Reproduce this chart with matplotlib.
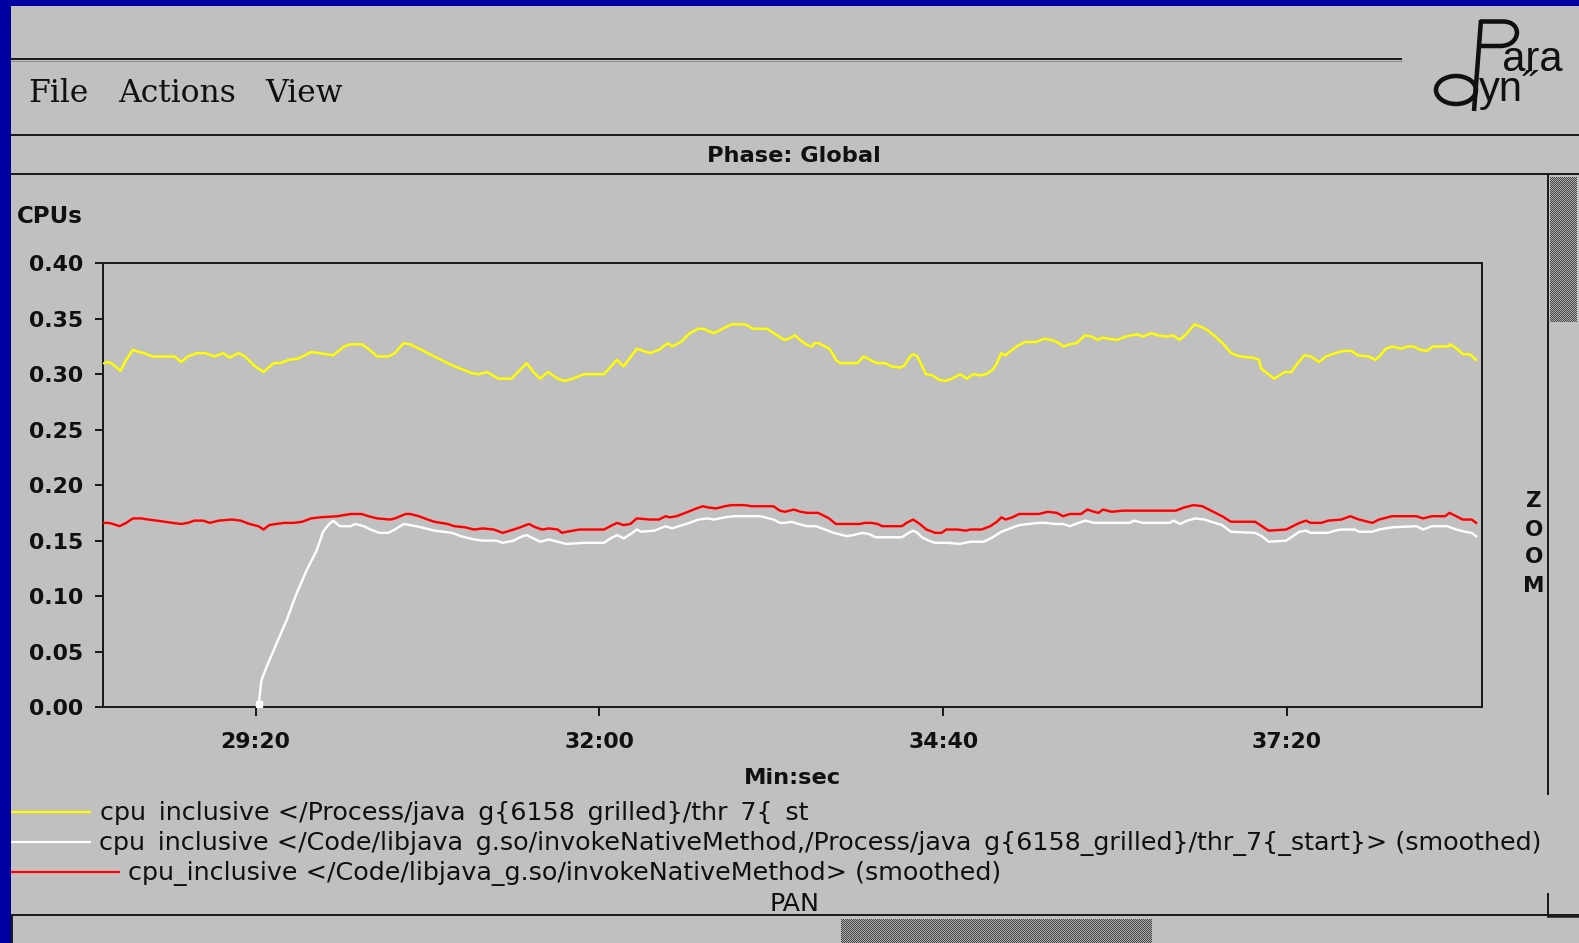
import numpy as np
import matplotlib
matplotlib.use('Agg')
import matplotlib.pyplot as plt
from matplotlib import font_manager as fm
from matplotlib.patches import Rectangle, Ellipse, PathPatch
from matplotlib.path import Path
from matplotlib.colors import ListedColormap

# ---------------- data (time in seconds, value in CPUs) ----------------
yellow_t = [1689.5, 1691.6, 1693.6, 1697.1, 1699.8, 1702.9, 1705.9, 1708.0, 1712.1, 1722.3,
            1725.4, 1728.5, 1732.6, 1736.7, 1740.8, 1744.9, 1747.9, 1752.0, 1755.1, 1759.2,
            1763.7, 1768.4, 1771.5, 1775.6, 1779.7, 1785.8, 1789.9, 1796.1, 1801.2, 1804.3,
            1809.4, 1812.5, 1816.6, 1821.7, 1824.8, 1828.9, 1831.9, 1837.1, 1843.2, 1851.4,
            1855.5, 1860.6, 1863.7, 1867.8, 1872.9, 1879.1, 1882.1, 1886.2, 1889.3, 1892.4,
            1896.1, 1900.6, 1903.6, 1907.7, 1912.9, 1922.1, 1928.2, 1931.3, 1937.4, 1943.6,
            1947.7, 1951.8, 1953.8, 1957.9, 1962.0, 1966.1, 1968.2, 1973.3, 1976.4, 1981.5,
            1987.6, 1991.7, 1997.9, 2002.0,
            2006, 2008, 2011, 2014, 2017, 2019, 2020, 2022, 2025, 2027, 2029, 2030, 2032, 2040,
            2043, 2046, 2049, 2053, 2056, 2060, 2062, 2065, 2066, 2068, 2070, 2072, 2075, 2078,
            2081, 2084, 2088, 2091, 2094, 2097, 2100, 2103, 2105, 2107, 2109, 2112, 2115, 2118,
            2123, 2127, 2130, 2133, 2136, 2139, 2142, 2146, 2149, 2152, 2154, 2157, 2161, 2165,
            2170, 2173, 2177, 2180, 2184, 2187, 2190, 2193, 2197, 2202, 2206, 2210, 2214, 2218,
            2224, 2227, 2228, 2230, 2234, 2239, 2242, 2245, 2248, 2251, 2255, 2258, 2261, 2266,
            2270, 2273, 2278, 2281, 2283, 2286, 2289, 2293, 2296, 2299, 2302, 2305, 2308, 2315,
            2316, 2319, 2322, 2325, 2328]
yellow_v = [0.310, 0.311, 0.309, 0.303, 0.313, 0.322, 0.320, 0.319, 0.316, 0.316,
            0.311, 0.316, 0.319, 0.319, 0.316, 0.319, 0.315, 0.319, 0.316, 0.308,
            0.302, 0.310, 0.310, 0.313, 0.314, 0.320, 0.319, 0.317, 0.325, 0.327,
            0.327, 0.323, 0.316, 0.316, 0.319, 0.328, 0.327, 0.322, 0.316, 0.308,
            0.305, 0.301, 0.300, 0.302, 0.296, 0.296, 0.302, 0.310, 0.302, 0.296,
            0.302, 0.296, 0.294, 0.296, 0.300, 0.300, 0.313, 0.307, 0.323, 0.319,
            0.322, 0.328, 0.325, 0.329, 0.337, 0.341, 0.341, 0.337, 0.340, 0.345,
            0.345, 0.341, 0.341, 0.336,
            0.331, 0.332, 0.335, 0.330, 0.326, 0.325, 0.328, 0.328, 0.325, 0.323, 0.317, 0.313, 0.310, 0.310,
            0.316, 0.313, 0.310, 0.310, 0.307, 0.306, 0.308, 0.317, 0.318, 0.316, 0.308, 0.300, 0.299, 0.295,
            0.294, 0.296, 0.300, 0.296, 0.300, 0.299, 0.300, 0.304, 0.310, 0.319, 0.317, 0.322, 0.326, 0.329,
            0.329, 0.332, 0.331, 0.329, 0.325, 0.327, 0.328, 0.335, 0.334, 0.331, 0.333, 0.332, 0.331, 0.334,
            0.336, 0.334, 0.337, 0.335, 0.334, 0.335, 0.331, 0.336, 0.345, 0.341, 0.335, 0.328, 0.319, 0.316,
            0.315, 0.313, 0.305, 0.302, 0.296, 0.302, 0.302, 0.310, 0.317, 0.316, 0.311, 0.316, 0.318, 0.321,
            0.321, 0.317, 0.316, 0.313, 0.316, 0.323, 0.325, 0.323, 0.325, 0.325, 0.322, 0.321, 0.325, 0.325,
            0.327, 0.323, 0.318, 0.318, 0.313]

white_t = [1761.5, 1762.7, 1765.1, 1769.7, 1774.4, 1779.0, 1783.7, 1788.4, 1791.4, 1793.8,
           1796.1, 1799.2, 1804.3, 1806.3, 1810.4, 1813.5, 1817.6, 1821.7, 1824.8, 1828.9,
           1831.9, 1837.1, 1843.2, 1851.4, 1855.5, 1861.6, 1865.7, 1871.9, 1875.0, 1880.1,
           1884.2, 1886.2, 1889.3, 1892.4, 1896.5, 1900.6, 1904.7, 1912.9, 1922.1, 1925.2,
           1928.2, 1931.3, 1935.4, 1937.4, 1939.5, 1945.6, 1950.8, 1953.8, 1956.9, 1962.0,
           1966.1, 1970.2, 1973.3, 1978.4, 1982.5, 1988.7, 1994.8, 2001.0, 2004.0,
           2006.4, 2009.5, 2012.6, 2016.7, 2020.8, 2024.9, 2029.0, 2035.2, 2038.2, 2042.4,
           2045.4, 2048.5, 2060.8, 2063.9, 2066.0, 2068.0, 2070.1, 2073.2, 2076.3, 2082.4,
           2087.6, 2092.7, 2098.9, 2103.0, 2107.1, 2111.2, 2115.3, 2124.5, 2127.6, 2131.7,
           2135.8, 2138.9, 2143.0, 2146.1, 2150.2, 2153.3, 2166.7, 2168.7, 2172.8, 2176.9,
           2185.2, 2187.2, 2190.3, 2193.4, 2197.5, 2201.6, 2204.7, 2209.8, 2213.9, 2225.2,
           2228.3, 2231.4, 2239.6, 2242.7, 2245.8, 2248.9, 2250.9, 2259.1, 2262.2, 2265.3,
           2271.5, 2273.5, 2279.7, 2282.8, 2288.9, 2300.2, 2303.3, 2307.4, 2314.6, 2318.7,
           2322.8, 2325.9, 2328.0]
white_v = [0.003, 0.024, 0.036, 0.057, 0.078, 0.102, 0.123, 0.141, 0.158, 0.164,
           0.168, 0.163, 0.163, 0.165, 0.163, 0.160, 0.157, 0.157, 0.160, 0.165,
           0.164, 0.162, 0.159, 0.157, 0.154, 0.151, 0.150, 0.150, 0.148, 0.150,
           0.154, 0.155, 0.152, 0.149, 0.151, 0.149, 0.147, 0.148, 0.148, 0.152,
           0.155, 0.152, 0.157, 0.160, 0.158, 0.159, 0.163, 0.161, 0.163, 0.166,
           0.169, 0.170, 0.169, 0.171, 0.172, 0.172, 0.172, 0.169, 0.166,
           0.166, 0.167, 0.165, 0.163, 0.163, 0.160, 0.157, 0.154, 0.155, 0.157,
           0.156, 0.153, 0.153, 0.157, 0.159, 0.157, 0.153, 0.150, 0.148, 0.148,
           0.147, 0.149, 0.149, 0.153, 0.158, 0.161, 0.164, 0.166, 0.166, 0.165,
           0.165, 0.163, 0.166, 0.168, 0.166, 0.166, 0.166, 0.168, 0.166, 0.166,
           0.166, 0.168, 0.165, 0.168, 0.170, 0.169, 0.167, 0.164, 0.158, 0.157,
           0.154, 0.149, 0.150, 0.154, 0.158, 0.159, 0.157, 0.157, 0.159, 0.160,
           0.160, 0.158, 0.158, 0.160, 0.162, 0.163, 0.160, 0.163, 0.163, 0.160,
           0.158, 0.157, 0.154]

red_t = [1689.5, 1691.6, 1693.6, 1696.7, 1699.8, 1702.9, 1707.0, 1710.0, 1714.1, 1721.3,
         1725.4, 1728.5, 1731.5, 1735.6, 1738.7, 1742.8, 1749.0, 1753.1, 1757.2, 1761.3,
         1763.7, 1766.4, 1769.5, 1773.5, 1777.6, 1781.7, 1785.8, 1789.9, 1798.1, 1804.3,
         1809.4, 1812.5, 1816.6, 1822.7, 1824.8, 1829.9, 1831.9, 1836.0, 1840.1, 1843.2,
         1849.4, 1852.4, 1857.5, 1861.6, 1865.7, 1870.9, 1875.0, 1880.1, 1883.2, 1887.2,
         1890.3, 1893.4, 1896.5, 1900.6, 1902.6, 1904.7, 1910.8, 1922.1, 1926.2, 1928.2,
         1931.3, 1934.4, 1937.4, 1943.6, 1947.7, 1950.8, 1952.8, 1955.9, 1960.0, 1965.1,
         1968.2, 1970.2, 1974.3, 1978.4, 1981.5, 1987.6, 1990.7, 1995.8, 2001.0, 2004.0,
         2006.4, 2010.5, 2013.6, 2016.7, 2021.8, 2024.9, 2026.9, 2030.0, 2041.3, 2043.4,
         2046.5, 2049.5, 2051.6, 2060.8, 2062.9, 2066.0, 2069.1, 2072.2, 2076.3, 2079.3,
         2081.4, 2086.5, 2090.6, 2092.7, 2097.8, 2101.9, 2105.0, 2107.1, 2109.1, 2112.2,
         2115.3, 2124.5, 2128.7, 2132.8, 2135.8, 2138.9, 2144.1, 2147.1, 2150.2, 2152.3,
         2154.3, 2158.4, 2163.6, 2188.2, 2192.3, 2196.5, 2200.6, 2203.6, 2206.7, 2209.8,
         2213.9, 2225.2, 2228.3, 2231.4, 2239.6, 2242.7, 2245.8, 2248.9, 2250.9, 2256.0,
         2259.1, 2265.3, 2269.4, 2273.5, 2279.7, 2282.8, 2288.9, 2300.2, 2303.3, 2307.4,
         2313.6, 2315.6, 2318.7, 2321.8, 2325.9, 2328.0]
red_v = [0.166, 0.166, 0.165, 0.163, 0.166, 0.170, 0.170, 0.169, 0.168, 0.166,
         0.165, 0.166, 0.168, 0.168, 0.166, 0.168, 0.169, 0.168, 0.165, 0.163,
         0.160, 0.164, 0.165, 0.166, 0.166, 0.167, 0.170, 0.171, 0.172, 0.174,
         0.174, 0.172, 0.170, 0.169, 0.170, 0.174, 0.174, 0.172, 0.169, 0.167,
         0.165, 0.163, 0.162, 0.160, 0.161, 0.160, 0.157, 0.160, 0.162, 0.165,
         0.162, 0.160, 0.161, 0.160, 0.157, 0.158, 0.160, 0.160, 0.164, 0.166,
         0.164, 0.165, 0.170, 0.169, 0.169, 0.172, 0.171, 0.172, 0.175, 0.179,
         0.181, 0.180, 0.179, 0.181, 0.182, 0.182, 0.181, 0.181, 0.181, 0.177,
         0.176, 0.178, 0.176, 0.175, 0.175, 0.172, 0.170, 0.165, 0.165, 0.166,
         0.166, 0.165, 0.163, 0.163, 0.166, 0.169, 0.165, 0.160, 0.157, 0.157,
         0.160, 0.160, 0.159, 0.160, 0.160, 0.163, 0.167, 0.171, 0.169, 0.171,
         0.174, 0.174, 0.176, 0.175, 0.172, 0.174, 0.174, 0.178, 0.176, 0.175,
         0.178, 0.176, 0.177, 0.177, 0.180, 0.182, 0.181, 0.178, 0.175, 0.172,
         0.167, 0.167, 0.163, 0.159, 0.160, 0.163, 0.166, 0.168, 0.166, 0.166,
         0.168, 0.169, 0.172, 0.169, 0.166, 0.169, 0.172, 0.172, 0.170, 0.172,
         0.172, 0.175, 0.172, 0.169, 0.169, 0.166]

x_ticks = [1760, 1920, 2080, 2240]
x_tick_labels = ['29:20', '32:00', '34:40', '37:20']
y_ticks = [0.00, 0.05, 0.10, 0.15, 0.20, 0.25, 0.30, 0.35, 0.40]
x_range = [1689.0, 2330.5]
y_range = [0.0, 0.40]

GAP = '\u2002'   # stands in for the underscores that the original display hides
legend_labels = [
    'cpu' + GAP + 'inclusive </Process/java' + GAP + 'g{6158' + GAP + 'grilled}/thr' + GAP + '7{' + GAP + 'st',
    'cpu' + GAP + 'inclusive </Code/libjava' + GAP + 'g.so/invokeNativeMethod,/Process/java' + GAP
    + 'g{6158_grilled}/thr_7{_start}> (smoothed)',
    'cpu_inclusive </Code/libjava_g.so/invokeNativeMethod> (smoothed)',
]
series_colors = ['#ffff00', '#ffffff', '#ff0000']
menu_items = ['File', 'Actions', 'View']

# ---------------- figure ----------------
W, H = 1579, 943
GREY = '#c0c0c0'
DARK = '#1c1c1c'
INK = '#101010'
BLUE = '#0000a0'
PX = 72.0 / 100.0   # points per pixel

plt.rcParams['font.family'] = ['DejaVu Sans']
fig = plt.figure(figsize=(W / 100, H / 100), dpi=100)
fig.patch.set_facecolor(GREY)

bg = fig.add_axes([0, 0, 1, 1], zorder=0)
bg.set_xlim(0, W)
bg.set_ylim(H, 0)
bg.axis('off')

# blue screen border
bg.add_patch(Rectangle((0, 0), W, 6, color=BLUE, lw=0, zorder=5))
bg.add_patch(Rectangle((0, 0), 11, H, color=BLUE, lw=0, zorder=5))

def hline(y, x0, x1, lw=2.0, color=DARK):
    bg.plot([x0, x1], [y, y], color=color, lw=lw * PX, solid_capstyle='butt', zorder=3)

def vline(x, y0, y1, lw=2.0, color=DARK):
    bg.plot([x, x], [y0, y1], color=color, lw=lw * PX, solid_capstyle='butt', zorder=3)

hline(59, 11, 1402)
hline(60.5, 11, 1402, lw=1, color='#8a8a8a')
hline(135, 11, W)
hline(174, 11, W)
hline(915, 11, W)
hline(915.5, 1547, W, lw=3.5)
vline(1547.5, 174, 795)
vline(1547.5, 893, 915)
vline(12, 915, H)

# stippled scrollbar sliders
stip = ListedColormap(['#4a4a4a', '#a9a9a9'])
def stipple(x0, x1, y0, y1):
    w, h = int(x1 - x0), int(y1 - y0)
    img = np.indices((h, w)).sum(axis=0) % 2
    bg.imshow(img, cmap=stip, extent=(x0, x1, y1, y0), interpolation='nearest',
              aspect='auto', zorder=2)
stipple(1550, 1577, 177, 322)
stipple(841, 1152, 919, H)
bg.set_xlim(0, W)
bg.set_ylim(H, 0)

# menu bar
menu_x = [28, 118, 265]
for xm, name in zip(menu_x, menu_items):
    bg.text(xm, 102, name, family='DejaVu Serif', fontsize=22.6, color=INK,
            ha='left', va='baseline', zorder=4)

# Paradyn logo
lwL = 4.5 * PX
bg.plot([1481, 1474], [20, 111], color=INK, lw=lwL, solid_capstyle='butt', zorder=4)
pverts = [(1480, 21.5), (1503, 21.5), (1523, 21.5), (1521, 46), (1500, 46), (1478, 46)]
pcodes = [Path.MOVETO, Path.LINETO, Path.CURVE4, Path.CURVE4, Path.CURVE4, Path.LINETO]
bg.add_patch(PathPatch(Path(pverts, pcodes), fill=False, lw=lwL, ec=INK, zorder=4))
bg.add_patch(Ellipse((1456, 90), 40, 28, fill=False, lw=lwL, ec=INK, zorder=4))
# "ara" over "yn" as one two-line text (the letters interlock as in the logo)
bg.text(1479, 101, '  ara\nyn\u02dd', family='Liberation Sans', fontsize=30,
        linespacing=0.68, color=INK, ha='left', va='baseline', zorder=4)

# header texts
bold = dict(family='DejaVu Sans', weight='bold', color=INK)
bg.text(794, 161.5, 'Phase: Global', fontsize=16.2, ha='center', va='baseline', **bold)
bg.text(17, 223, 'CPUs', fontsize=16.5, ha='left', va='baseline', **bold)
bg.text(792, 784, 'Min:sec', fontsize=16.2, ha='center', va='baseline', **bold)
for ch, yb in zip('ZOOM', [507, 536, 563, 592]):
    bg.text(1534, yb, ch, fontsize=15.5, ha='center', va='baseline', **bold)

# ---------------- plot axes ----------------
L, R, T, B = 103, 1481.5, 263.3, 707
ax = fig.add_axes([L / W, 1 - B / H, (R - L) / W, (B - T) / H], zorder=2)
ax.patch.set_alpha(0)

lw_line = 2.4 * PX
ax.plot(yellow_t, yellow_v, color=series_colors[0], lw=lw_line, zorder=3)
ax.plot(white_t, white_v, color=series_colors[1], lw=lw_line, marker='s',
        markevery=[0], ms=6 * PX, zorder=3)
ax.plot(red_t, red_v, color=series_colors[2], lw=lw_line, zorder=4)

ax.set_xlim(*x_range)
ax.set_ylim(*y_range)
ax.set_xticks(x_ticks)
ax.set_xticklabels(x_tick_labels)
ax.set_yticks(y_ticks)
ax.set_yticklabels(['%.2f' % v for v in y_ticks])
for sp in ax.spines.values():
    sp.set_color(DARK)
    sp.set_linewidth(2.0 * PX)
ax.tick_params(axis='both', direction='out', length=8.5 * PX, width=2.0 * PX,
               color=DARK, labelcolor=INK, labelsize=15.8)
ax.tick_params(axis='y', pad=11.5 * PX)
ax.tick_params(axis='x', pad=16 * PX)
for lbl in ax.get_xticklabels() + ax.get_yticklabels():
    lbl.set_fontweight('bold')

# ---------------- legend text (fitted to the reference width) ----------------
fp = fm.FontProperties(family='DejaVu Sans')
renderer = fig.canvas.get_renderer()
probe = bg.text(98.7, 850, legend_labels[1], fontproperties=fp, fontsize=20)
wpx = probe.get_window_extent(renderer).width
probe.remove()
leg_fs = 20 * (1543.8 - 98.7) / wpx

leg_x = [99.5, 98.7, 127.5]
leg_base = [820, 850, 880]
line_end = [91, 91, 120]
line_y = [811.7, 841.7, 871.7]

# the last glyph of the first line is cut off in the original display
probe = bg.text(leg_x[0], leg_base[0], legend_labels[0][:-1], fontproperties=fp, fontsize=leg_fs)
clip_x = probe.get_window_extent(renderer).x1 + 3
probe.remove()
clip = Rectangle((0, 0), clip_x, H, transform=bg.transData, visible=False)
bg.add_patch(clip)

for i, (lab, col) in enumerate(zip(legend_labels, series_colors)):
    bg.plot([11, line_end[i]], [line_y[i], line_y[i]], color=col, lw=2.2 * PX,
            solid_capstyle='butt', zorder=3)
    t = bg.text(leg_x[i], leg_base[i], lab, fontproperties=fp, fontsize=leg_fs,
                color=INK, ha='left', va='baseline', zorder=4)
    if i == 0:
        t.set_clip_path(clip)
bg.text(794, 911, 'PAN', fontproperties=fp, fontsize=leg_fs, color=INK,
        ha='center', va='baseline', zorder=4)

fig.savefig('out.png', dpi=100, facecolor=GREY)
